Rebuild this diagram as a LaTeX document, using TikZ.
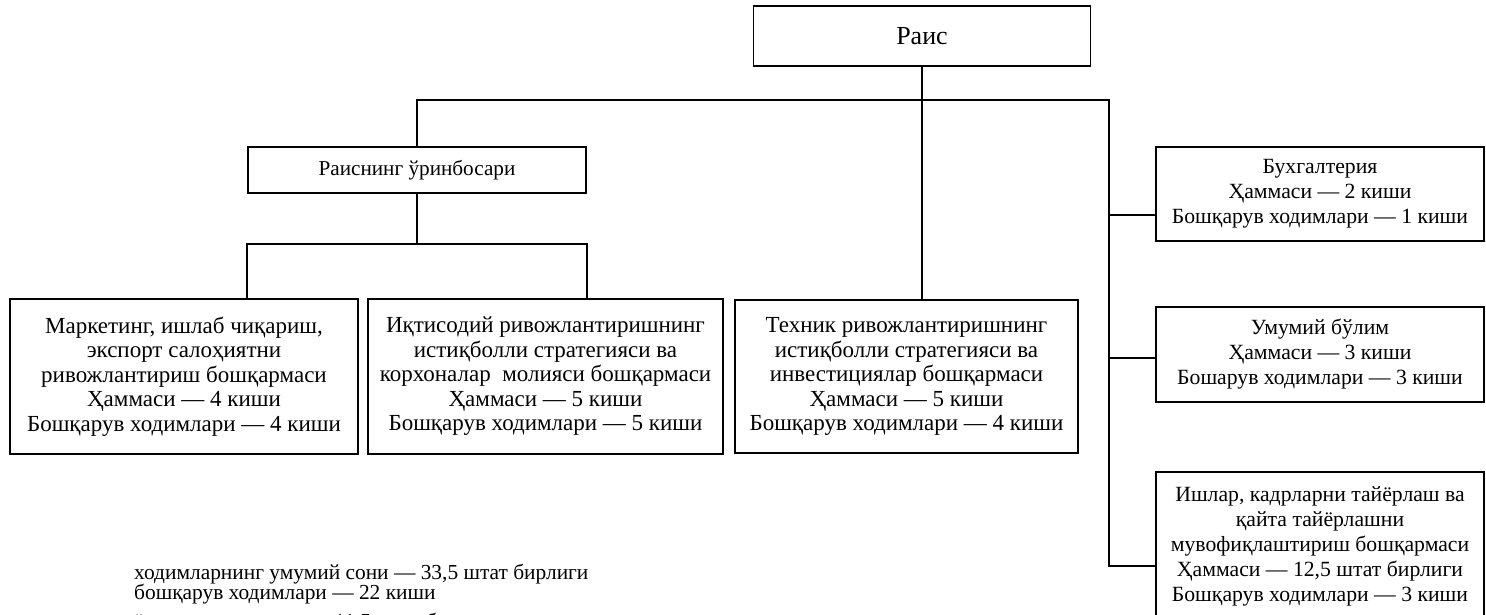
\documentclass[tikz,border=0pt]{standalone}
\usepackage{fontspec}
\setmainfont{Liberation Serif}

\tikzstyle{link} = [draw=black,line width=1.6pt]
\tikzstyle{unit}=[
  rectangle,
  draw=black,
  line width=1.6pt,
  align=center,
  anchor=center,
  inner sep=0pt,
  font=\fontsize{23}{24.5}\selectfont,
]
\tikzstyle{head}=[
  unit,
  minimum width=337pt,
  minimum height=60pt,
  font=\fontsize{26}{28}\selectfont,
]
\tikzstyle{deputy}=[
  unit,
  minimum width=338pt,
  minimum height=46pt,
  font=\fontsize{21.2}{24}\selectfont,
]
\tikzstyle{dept}=[
  unit,
  minimum height=155pt,
]
\tikzstyle{side}=[
  unit,
  minimum width=328pt,
  minimum height=95pt,
  font=\fontsize{21.7}{25}\selectfont,
]
\tikzstyle{note}=[
  align=left,
  anchor=north west,
  inner sep=0pt,
  font=\fontsize{21.4}{20}\selectfont,
]

\begin{document}
\begin{tikzpicture}[x=1pt,y=-1pt]
      \useasboundingbox (0,0) rectangle (1486,614);

      \node[head] (rais) at (922,36) {Раис};
      \node[deputy] (deputy) at ([xshift=-505pt, yshift=-134pt] rais.center) {Раиснинг ўринбосари};

      \node[dept, minimum width=348pt] (mkt) at ([xshift=-738pt, yshift=-340.5pt] rais.center) {Маркетинг, ишлаб чиқариш,\\экспорт салоҳиятни\\ривожлантириш бошқармаси\\Ҳаммаси — 4 киши\\Бошқарув ходимлари — 4 киши};
      \node[dept, minimum width=355pt] (eco) at ([xshift=-376.5pt, yshift=-340.5pt] rais.center) {Иқтисодий ривожлантиришнинг\\истиқболли стратегияси ва\\корхоналар\ \ молияси бошқармаси\\Ҳаммаси — 5 киши\\Бошқарув ходимлари — 5 киши};
      \node[dept, minimum width=343pt, minimum height=153pt] (tech) at ([xshift=-15.5pt, yshift=-340.5pt] rais.center) {Техник ривожлантиришнинг\\истиқболли стратегияси ва\\инвестициялар бошқармаси\\Ҳаммаси — 5 киши\\Бошқарув ходимлари — 4 киши};

      \node[side, minimum height=94pt] (acc) at ([xshift=398pt, yshift=-158pt] rais.center) {Бухгалтерия\\Ҳаммаси — 2 киши\\Бошқарув ходимлари — 1 киши};
      \node[side] (gen) at ([xshift=398pt, yshift=-318.5pt] rais.center) {Умумий бўлим\\Ҳаммаси — 3 киши\\Бошарув ходимлари — 3 киши};
      \node[side, minimum height=148pt] (hr) at ([xshift=398pt, yshift=-510pt] rais.center) {Ишлар, кадрларни тайёрлаш ва\\қайта тайёрлашни\\мувофиқлаштириш бошқармаси\\Ҳаммаси — 12,5 штат бирлиги\\Бошқарув ходимлари — 3 киши};

      \node[note] (totals) at (134,564) {ходимларнинг умумий сони — 33,5 штат бирлиги\\бошқарув ходимлари — 22 киши\\[9pt]ёрдамчи ходимлар — 11,5 штат бирлиги};

      % top level bus
      \coordinate (bus) at ([yshift=-33pt] rais.south);
      \coordinate (trunk) at ([xshift=-46pt] acc.west |- bus);
      \coordinate (acclink) at ([yshift=-21pt] acc.west);
      \coordinate (genlink) at ([yshift=-3.5pt] gen.west);
      \coordinate (hrlink) at ([yshift=-20pt] hr.west);
      \draw[link] (rais.south) -- (rais.south |- tech.north);
      \draw[link] (deputy.north) |- (bus) -- (trunk) -- (trunk |- hrlink) -- (hrlink);
      \draw[link] (trunk |- acclink) -- (acclink);
      \draw[link] (trunk |- genlink) -- (genlink);

      % deputy branch
      \coordinate (fork) at ([yshift=-50pt] deputy.south);
      \draw[link] (deputy.south) -- (fork);
      \draw[link] (deputy.west |- mkt.north) -- (deputy.west |- fork) -- (deputy.east |- fork) -- (deputy.east |- eco.north);
    \end{tikzpicture}
\end{document}
